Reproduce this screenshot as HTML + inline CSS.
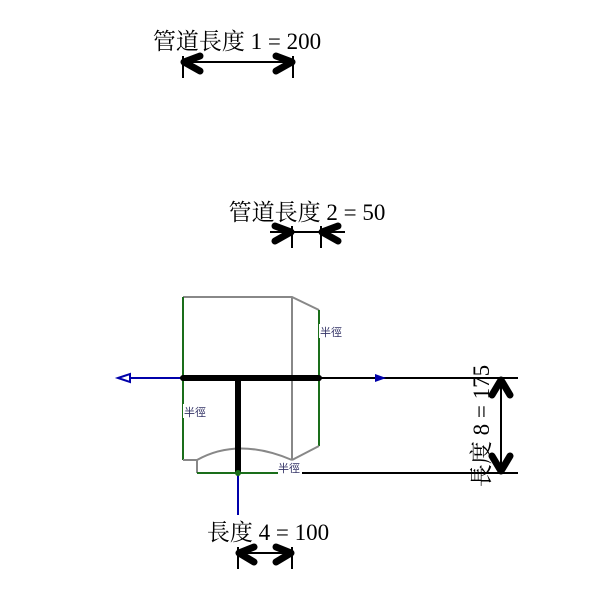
<!DOCTYPE html>
<html><head><meta charset="utf-8"><style>html,body{margin:0;padding:0;background:#fff}svg{display:block}</style></head><body>
<svg width="600" height="600" viewBox="0 0 600 600" xmlns="http://www.w3.org/2000/svg" font-family="'Liberation Serif','Noto Serif CJK SC',serif">
<rect width="600" height="600" fill="#fff"/>
<!-- dim 1 -->
<text x="237" y="49" font-size="23" text-anchor="middle" fill="#000">管道長度 1 = 200</text>
<line x1="183" y1="62" x2="293" y2="62" stroke="#000" stroke-width="2"/>
<line x1="183" y1="56" x2="183" y2="78" stroke="#000" stroke-width="2"/>
<line x1="293" y1="56" x2="293" y2="78" stroke="#000" stroke-width="2"/>
<polyline points="200,56 184,62 200,71" fill="none" stroke="#000" stroke-width="7" stroke-linecap="round" stroke-linejoin="round"/>
<polyline points="276,56 292,62 276,71" fill="none" stroke="#000" stroke-width="7" stroke-linecap="round" stroke-linejoin="round"/>
<!-- dim 2 -->
<text x="307" y="220" font-size="23" text-anchor="middle" fill="#000">管道長度 2 = 50</text>
<line x1="270" y1="232" x2="345" y2="232" stroke="#000" stroke-width="2"/>
<line x1="292" y1="226" x2="292" y2="248" stroke="#000" stroke-width="2"/>
<line x1="321" y1="226" x2="321" y2="248" stroke="#000" stroke-width="2"/>
<polyline points="275,226 291,232 275,241" fill="none" stroke="#000" stroke-width="7" stroke-linecap="round" stroke-linejoin="round"/>
<polyline points="338,226 322,232 338,241" fill="none" stroke="#000" stroke-width="7" stroke-linecap="round" stroke-linejoin="round"/>
<!-- shape -->
<polyline points="183,297 292,297 319,310" fill="none" stroke="#888" stroke-width="2"/>
<line x1="292" y1="297" x2="292" y2="460" stroke="#888" stroke-width="2"/>
<line x1="183" y1="297" x2="183" y2="460" stroke="#1a6e1a" stroke-width="2"/>
<line x1="319" y1="310" x2="319" y2="446" stroke="#1a6e1a" stroke-width="2"/>
<polyline points="183,460 197,460 197,473" fill="none" stroke="#888" stroke-width="2"/>
<path d="M197,460 Q238,437 292,460" fill="none" stroke="#888" stroke-width="2"/>
<line x1="292" y1="460" x2="319" y2="446" stroke="#888" stroke-width="2"/>
<line x1="197" y1="473" x2="280" y2="473" stroke="#1a6e1a" stroke-width="2"/>
<line x1="300" y1="473" x2="518" y2="473" stroke="#000" stroke-width="2"/>
<!-- pipes -->
<line x1="319" y1="378" x2="518" y2="378" stroke="#000" stroke-width="2"/>
<polygon points="375,374 386,378 375,382" fill="#00a"/>
<line x1="121" y1="378" x2="183" y2="378" stroke="#00a" stroke-width="2"/>
<polygon points="118,378 130,374 130,382" fill="#fff" stroke="#00a" stroke-width="2"/>
<line x1="238" y1="473" x2="238" y2="515" stroke="#00a" stroke-width="2"/>
<line x1="183" y1="378" x2="319" y2="378" stroke="#000" stroke-width="6"/>
<line x1="238" y1="378" x2="238" y2="473" stroke="#000" stroke-width="6"/>
<circle cx="183" cy="378" r="3" fill="#000"/><circle cx="319" cy="378" r="3" fill="#000"/><circle cx="238" cy="473" r="3" fill="#1a6e1a"/>
<!-- labels 半徑 -->
<g font-size="11" fill="#336" font-family="'Liberation Sans','Noto Sans CJK TC',sans-serif">
<rect x="319" y="324" width="24" height="14" fill="#fff"/><text x="320" y="336">半徑</text>
<rect x="183" y="404" width="24" height="14" fill="#fff"/><text x="184" y="416">半徑</text>
<rect x="278" y="461" width="24" height="13" fill="#fff"/><text x="278" y="472">半徑</text>
</g>
<!-- dim 8 -->
<line x1="501" y1="382" x2="501" y2="469" stroke="#000" stroke-width="2"/>
<polyline points="492,395 501,380 510,395" fill="none" stroke="#000" stroke-width="7" stroke-linecap="round" stroke-linejoin="round"/>
<polyline points="492,456 501,471 510,456" fill="none" stroke="#000" stroke-width="7" stroke-linecap="round" stroke-linejoin="round"/>
<text transform="translate(489,426) rotate(-90)" font-size="23" text-anchor="middle" fill="#000">長度 8 = 175</text>
<!-- dim 4 -->
<text x="268" y="540" font-size="23" text-anchor="middle" fill="#000">長度 4 = 100</text>
<line x1="238" y1="553" x2="292" y2="553" stroke="#000" stroke-width="2"/>
<line x1="238" y1="547" x2="238" y2="569" stroke="#000" stroke-width="2"/>
<line x1="292" y1="547" x2="292" y2="569" stroke="#000" stroke-width="2"/>
<polyline points="254,547 239,553 254,562" fill="none" stroke="#000" stroke-width="7" stroke-linecap="round" stroke-linejoin="round"/>
<polyline points="276,547 291,553 276,562" fill="none" stroke="#000" stroke-width="7" stroke-linecap="round" stroke-linejoin="round"/>
</svg>
</body></html>
